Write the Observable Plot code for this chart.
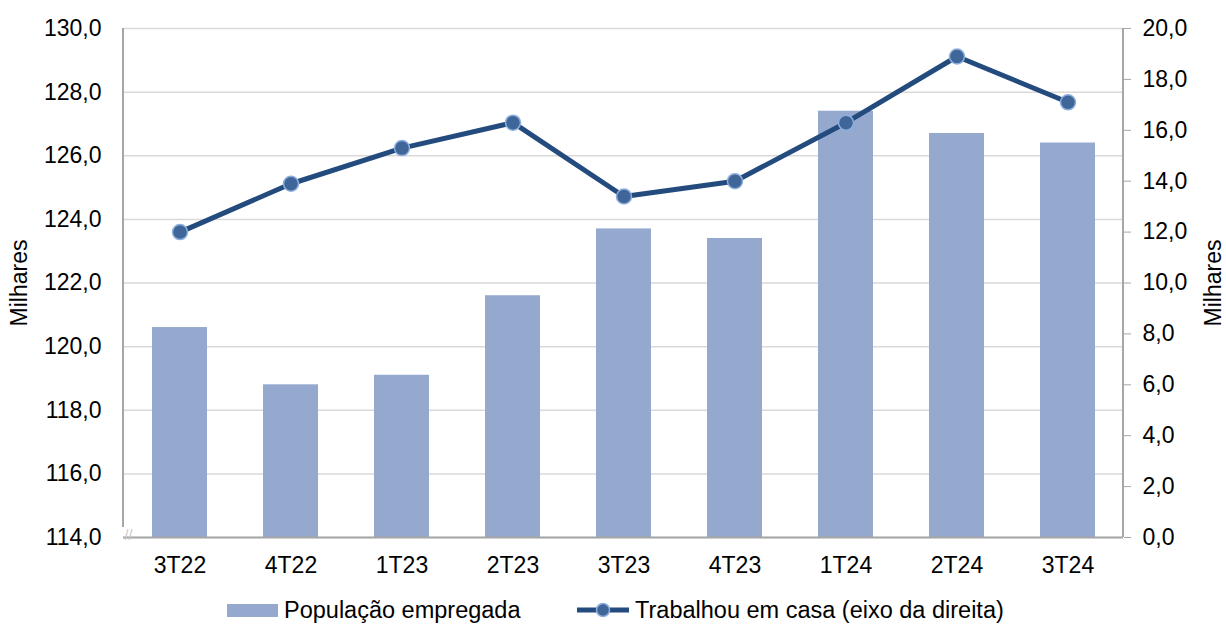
<!DOCTYPE html>
<html><head><meta charset="utf-8">
<script src="https://cdn.jsdelivr.net/npm/d3@7"></script>
<script src="https://cdn.jsdelivr.net/npm/@observablehq/plot@0.6"></script>
<style>
body{margin:0;background:#fff;font-family:"Liberation Sans",Arial,sans-serif;}
#wrap{position:relative;width:1226px;height:629px;}
#legend{position:absolute;top:593px;left:0;width:1226px;height:34px;font-size:23.5px;color:#000;}
.li{position:absolute;top:0;display:flex;align-items:center;height:34px;}
</style></head>
<body><div id="wrap"><div id="chart"></div>
<div id="legend">
  <div class="li" style="left:227px"><span style="display:inline-block;width:51px;height:13px;background:#95a9cf;margin-right:6px"></span>População empregada</div>
  <div class="li" style="left:577px"><svg width="52" height="20" style="margin-right:6px"><line x1="0" y1="10" x2="52" y2="10" stroke="#234b7e" stroke-width="5"/><circle cx="26" cy="10" r="6.5" fill="#3e6699" stroke="#8eaedb" stroke-width="1.5"/></svg>Trabalhou em casa (eixo da direita)</div>
</div></div>
<script>
const categories = ["3T22","4T22","1T23","2T23","3T23","4T23","1T24","2T24","3T24"];
const populacaoEmpregada = [120.6, 118.8, 119.1, 121.6, 123.7, 123.4, 127.4, 126.7, 126.4];
const trabalhouEmCasa = [12.0, 13.9, 15.3, 16.3, 13.4, 14.0, 16.3, 18.9, 17.1];
const leftTicks = [114,116,118,120,122,124,126,128,130];
const rightTicks = [0,2,4,6,8,10,12,14,16,18,20];

const L0 = 114, L1 = 130, R0 = 0, R1 = 20;
const toLeft = v => L0 + (v - R0) * (L1 - L0) / (R1 - R0);
const fromLeft = d => R0 + (d - L0) * (R1 - R0) / (L1 - L0);
const fmt = v => v.toFixed(1).replace(".", ",");

const data = categories.map((c, i) => ({cat: c, pop: populacaoEmpregada[i], casa: trabalhouEmCasa[i], casaL: toLeft(trabalhouEmCasa[i])}));

const chart = Plot.plot({
  width: 1226, height: 585,
  marginTop: 28, marginBottom: 48, marginLeft: 123, marginRight: 103,
  style: {fontFamily: '"Liberation Sans", Arial, sans-serif', fontSize: "23px", color: "#000", background: "#fff"},
  x: {domain: categories, padding: 0, label: null},
  y: {domain: [L0, L1], label: null},
  marks: [
    Plot.gridY(leftTicks, {stroke: "#d9d9d9", strokeOpacity: 1, strokeWidth: 1.5}),
    Plot.barY(data, {x: "cat", y1: () => L0, y2: "pop", fill: "#95a9cf", insetLeft: 28, insetRight: 28}),
    Plot.ruleY([L0], {stroke: "#a6a6a6", strokeWidth: 2}),
    Plot.axisY(leftTicks, {anchor: "left", tickSize: 0, tickPadding: 22, tickFormat: fmt, label: "Milhares", labelAnchor: "center", labelOffset: 113, labelArrow: "none", fontSize: 23}),
    Plot.axisY(rightTicks.map(toLeft), {anchor: "right", tickSize: 7, tickPadding: 12, stroke: "#a6a6a6", tickFormat: d => fmt(fromLeft(d)), label: "Milhares", labelAnchor: "center", labelOffset: 97, labelArrow: "none", fontSize: 23}),
    Plot.axisX({tickSize: 0, tickPadding: 19, label: null, fontSize: 23}),
    Plot.line(data, {x: "cat", y: "casaL", stroke: "#234b7e", strokeWidth: 5}),
    Plot.dot(data, {x: "cat", y: "casaL", r: 7.5, fill: "#3e6699", stroke: "#8eaedb", strokeWidth: 1.5}),
    Plot.text(["//"], {frameAnchor: "bottom-left", dx: 1, dy: 2, fill: "#c8c8c8", fontSize: 14})
  ]
});
document.getElementById("chart").appendChild(chart);

// axis lines (left with break, right)
const ys = chart.scale("y");
const svg = d3.select(chart);
svg.append("line").attr("x1",123).attr("x2",123).attr("y1",ys.apply(L1)).attr("y2",ys.apply(L0)-10).attr("stroke","#a6a6a6").attr("stroke-width",2);
svg.append("line").attr("x1",1123).attr("x2",1123).attr("y1",ys.apply(L1)).attr("y2",ys.apply(L0)).attr("stroke","#a6a6a6").attr("stroke-width",2);
</script>
</body></html>
